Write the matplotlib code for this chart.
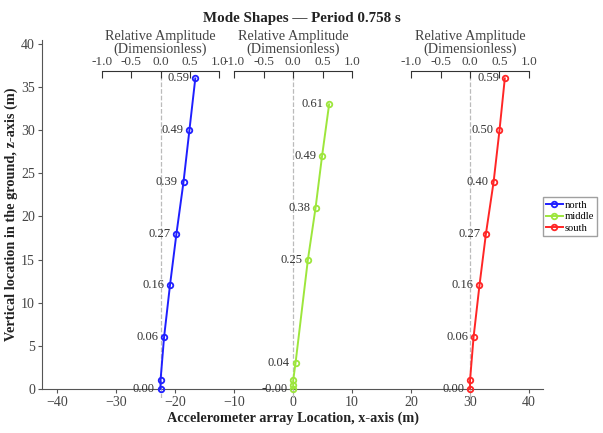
import matplotlib.pyplot as plt

plt.rcParams['font.family'] = ['Liberation Serif', 'DejaVu Serif']

# station positions along x (m) and colours
names = ['north', 'middle', 'south']
bases = [-22.5, 0.0, 30.0]
colors = ['#1f1fff', '#9de63c', '#ff2626']

# depths (m) and relative amplitudes
z_north = [0, 1, 6, 12, 18, 24, 30, 36]
a_north = [0.00, 0.00, 0.06, 0.16, 0.27, 0.39, 0.49, 0.59]
z_middle = [0, 0.5, 1, 3, 15, 21, 27, 33]
a_middle = [-0.00, 0.00, 0.00, 0.04, 0.25, 0.38, 0.49, 0.61]
z_south = [0, 1, 6, 12, 18, 24, 30, 36]
a_south = [0.00, 0.00, 0.06, 0.16, 0.27, 0.40, 0.50, 0.59]

# which points get a value label
lab_north = [True, False, True, True, True, True, True, True]
lab_middle = [True, False, False, True, True, True, True, True]
lab_south = [True, False, True, True, True, True, True, True]

amp_ticks = [-1.0, -0.5, 0.0, 0.5, 1.0]
x_ticks = [-40, -30, -20, -10, 0, 10, 20, 30, 40]
y_ticks = [0, 5, 10, 15, 20, 25, 30, 35, 40]

fig = plt.figure(figsize=(6.03, 4.33), dpi=100)
ax = fig.add_axes([0.0697, 0.1016, 0.831, 0.806])
ax.set_xlim(-42.6, 42.4)
ax.set_ylim(0, 40.45)
ax.set_xticks(x_ticks)
ax.set_yticks(y_ticks)
ax.spines['top'].set_visible(False)
ax.spines['right'].set_visible(False)
for s in ['left', 'bottom']:
    ax.spines[s].set_color('#555555')
ax.tick_params(colors='#555555', labelcolor='#444444', labelsize=10, length=3, pad=2)
ax.set_xlabel('Accelerometer array Location, x-axis (m)', fontsize=10.3,
              fontweight='bold', color='#222222', labelpad=2)
ax.set_ylabel('Vertical location in the ground, z-axis (m)', fontsize=10.3,
              fontweight='bold', color='#222222', labelpad=2)
fig.text(0.5, 0.957, 'Mode Shapes \u2014 Period 0.758 s', ha='center', va='center',
         fontsize=10.8, fontweight='bold', color='#222222')

series = [(z_north, a_north, lab_north), (z_middle, a_middle, lab_middle),
          (z_south, a_south, lab_south)]
handles = []
for name, base, col, (zs, amps, labs) in zip(names, bases, colors, series):
    # amplitude axes: -1..1 spans base-10 .. base+10 metres
    ia = ax.inset_axes([base - 10, -1.0, 20, 37.9], transform=ax.transData)
    ia.set_xlim(-1, 1)
    ia.set_ylim(-1.0, 36.9)
    ia.patch.set_visible(False)
    for s in ['left', 'right', 'bottom']:
        ia.spines[s].set_visible(False)
    ia.spines['top'].set_color('#333333')
    ia.xaxis.tick_top()
    ia.xaxis.set_label_position('top')
    ia.set_xticks(amp_ticks)
    ia.set_xticklabels(['%.1f' % t for t in amp_ticks])
    ia.set_yticks([])
    ia.tick_params(axis='x', direction='in', length=5, pad=2, labelsize=9.5,
                   colors='#333333', labelcolor='#444444')
    ia.set_xlabel('Relative Amplitude\n(Dimensionless)', fontsize=10.3,
                  color='#444444', labelpad=2.5, linespacing=0.9)
    ia.axvline(0, color='#bbbbbb', lw=0.9, ls='--', zorder=1)
    h, = ia.plot(amps, zs, color=col, lw=1.4, marker='o', ms=4,
                 mfc='none', mew=1.3, clip_on=False, label=name, zorder=3)
    handles.append(h)
    for a, z, show in zip(amps, zs, labs):
        if show:
            ia.annotate('%.2f' % a, (a, z), xytext=(-4, 0), textcoords='offset points',
                        ha='right', va='center', fontsize=9, color='#333333')

fig.legend(handles=handles, loc='center left', bbox_to_anchor=(0.9, 0.5),
           fontsize=7.6, frameon=True, fancybox=False, edgecolor='#888888',
           handlelength=1.6, handletextpad=0.2, borderpad=0.3, labelspacing=0.2,
           borderaxespad=0)

fig.savefig('out.png', dpi=100)
